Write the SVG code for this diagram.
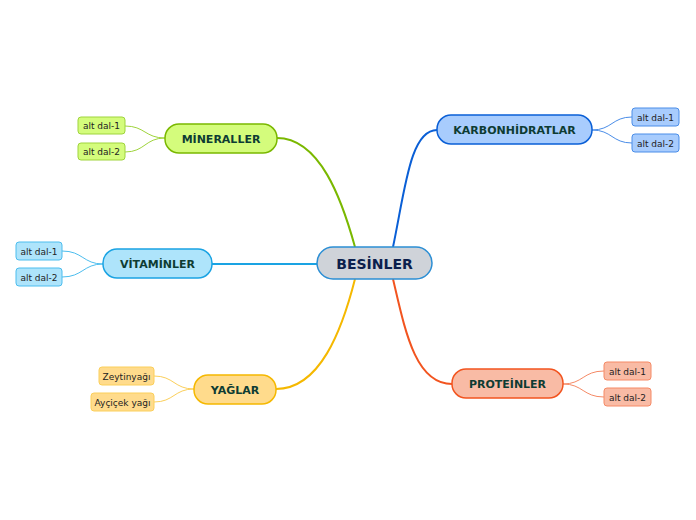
<svg xmlns="http://www.w3.org/2000/svg" width="696" height="520" viewBox="0 0 696 520">
<style>
text{font-family:Verdana,"DejaVu Sans",sans-serif;text-anchor:middle;dominant-baseline:central}
.m{font-size:11px;font-weight:bold;fill:#0e3c33}
.s{font-size:9px;fill:#222}
.c{fill:none}
</style>
<rect width="696" height="520" fill="#fff"/>
<g id="connectors" class="c">
<path d="M355,247 C342,200 320,138 277,138" stroke="#7ab800" stroke-width="2"/>
<path d="M393,247 C405,190 410,130 437,130" stroke="#0a5fd6" stroke-width="2"/>
<path d="M317,264 L212,264" stroke="#1aa3e3" stroke-width="2"/>
<path d="M355,279 C342,330 320,389 276,389" stroke="#f5b800" stroke-width="2"/>
<path d="M393,279 C405,330 415,384 452,384" stroke="#f2541f" stroke-width="2"/>
<g stroke="#9fd43c" stroke-width="1">
<path d="M165,138 C145,138 145,126 125,126"/>
<path d="M165,138 C145,138 145,152 125,152"/>
</g>
<g stroke="#4a8de8" stroke-width="1">
<path d="M592,130 C612,130 612,117 632,117"/>
<path d="M592,130 C612,130 612,143 632,143"/>
</g>
<g stroke="#4cbdee" stroke-width="1">
<path d="M103,264 C83,264 83,251 62,251"/>
<path d="M103,264 C83,264 83,277 62,277"/>
</g>
<g stroke="#fbcf5a" stroke-width="1">
<path d="M194,389 C174,389 174,376 154,376"/>
<path d="M194,389 C174,389 174,402 154,402"/>
</g>
<g stroke="#f58a66" stroke-width="1">
<path d="M563,384 C583,384 583,371 604,371"/>
<path d="M563,384 C583,384 583,397 604,397"/>
</g>
</g>
<g id="besinler">
<rect x="317" y="247" width="115" height="32" rx="16" fill="#cfd3d9" stroke="#2b8ed4" stroke-width="1.5"/>
<text x="374.5" y="264" style="font-size:14px;font-weight:bold;fill:#0c1f4d">BESİNLER</text>
</g>
<g id="mineraller">
<rect x="165" y="124" width="112" height="29" rx="14" fill="#d4fc7c" stroke="#7ab800" stroke-width="1.5"/>
<text x="221" y="139.5" class="m">MİNERALLER</text>
</g>
<g id="karbonhidratlar">
<rect x="437" y="115" width="155" height="29" rx="14" fill="#a8ccfd" stroke="#0a5fd6" stroke-width="1.5"/>
<text x="514.5" y="130.5" class="m">KARBONHİDRATLAR</text>
</g>
<g id="vitaminler">
<rect x="103" y="249" width="109" height="29" rx="14" fill="#aee4fb" stroke="#1aa3e3" stroke-width="1.5"/>
<text x="157.5" y="264.5" class="m">VİTAMİNLER</text>
</g>
<g id="yaglar">
<rect x="194" y="375" width="82" height="29" rx="14" fill="#ffdb8c" stroke="#f5b800" stroke-width="1.5"/>
<text x="235" y="390.5" class="m">YAĞLAR</text>
</g>
<g id="proteinler">
<rect x="452" y="369" width="111" height="29" rx="14" fill="#f9bba5" stroke="#f2541f" stroke-width="1.5"/>
<text x="507.5" y="384.5" class="m">PROTEİNLER</text>
</g>
<g id="min1"><rect x="78" y="117" width="47" height="17" rx="3" fill="#d4fc7c" stroke="#9fd43c"/><text x="101.5" y="126" class="s">alt dal-1</text></g>
<g id="min2"><rect x="78" y="143" width="47" height="17" rx="3" fill="#d4fc7c" stroke="#9fd43c"/><text x="101.5" y="152" class="s">alt dal-2</text></g>
<g id="kar1"><rect x="632" y="108" width="47" height="18" rx="3" fill="#a8ccfd" stroke="#4a8de8"/><text x="655.5" y="117.5" class="s">alt dal-1</text></g>
<g id="kar2"><rect x="632" y="134" width="47" height="18" rx="3" fill="#a8ccfd" stroke="#4a8de8"/><text x="655.5" y="143.5" class="s">alt dal-2</text></g>
<g id="vit1"><rect x="16" y="242" width="46" height="18" rx="3" fill="#aee4fb" stroke="#4cbdee"/><text x="39" y="251.5" class="s">alt dal-1</text></g>
<g id="vit2"><rect x="16" y="268" width="46" height="18" rx="3" fill="#aee4fb" stroke="#4cbdee"/><text x="39" y="277.5" class="s">alt dal-2</text></g>
<g id="yag1"><rect x="99" y="367" width="55" height="18" rx="3" fill="#ffdb8c" stroke="#fbcf5a"/><text x="126.5" y="376.5" class="s">Zeytinyağı</text></g>
<g id="yag2"><rect x="91" y="393" width="63" height="18" rx="3" fill="#ffdb8c" stroke="#fbcf5a"/><text x="122.5" y="402.5" class="s">Ayçiçek yağı</text></g>
<g id="pro1"><rect x="604" y="362" width="47" height="18" rx="3" fill="#f9bba5" stroke="#f58a66"/><text x="627.5" y="371.5" class="s">alt dal-1</text></g>
<g id="pro2"><rect x="604" y="388" width="47" height="18" rx="3" fill="#f9bba5" stroke="#f58a66"/><text x="627.5" y="397.5" class="s">alt dal-2</text></g>
</svg>
